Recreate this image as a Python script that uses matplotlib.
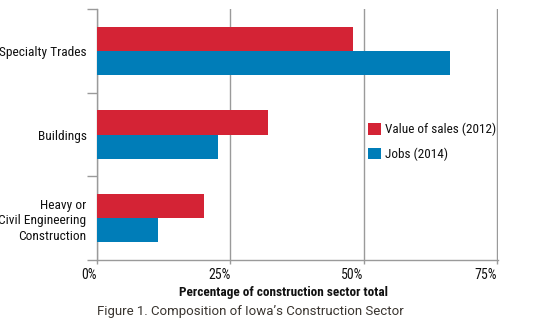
import matplotlib
matplotlib.use("Agg")
import matplotlib.pyplot as plt
from matplotlib.patches import Patch

categories = ["Specialty Trades", "Buildings", "Heavy or\nCivil Engineering\nConstruction"]
sales_2012 = [48.0, 32.1, 20.1]
jobs_2014 = [66.1, 22.6, 11.5]
xticks = [0, 25, 50, 75]
xtick_labels = ["0%", "25%", "50%", "75%"]

RED = "#D42335"
BLUE = "#007DB8"
GRID = "#9a9a9a"
narrow = ["Roboto Condensed", "DejaVu Sans"]

fig = plt.figure(figsize=(5.45, 3.25), dpi=100)
ax = fig.add_axes([0.178, 0.2, 0.7358, 0.771])

h = 0.29
ys = list(range(len(categories)))
ax.barh([y - h / 2 for y in ys], sales_2012, height=h, color=RED, zorder=3)
ax.barh([y + h / 2 for y in ys], jobs_2014, height=h, color=BLUE, zorder=3)

ax.set_ylim(2.5, -0.5)
ax.set_xlim(0, 75.15)
ax.set_yticks(ys)
ax.set_yticklabels(categories, family=narrow, fontsize=9.6, ha="right", linespacing=1.25)
ax.set_yticks([-0.5, 0.5, 1.5, 2.5], minor=True)
ax.tick_params(axis="y", which="major", length=0, pad=7.5, colors="#111111")
ax.tick_params(axis="y", which="minor", length=7, width=1, color=GRID)

ax.set_xticks(xticks)
ax.set_xticklabels(xtick_labels, family=narrow, fontsize=10, ha="right", color="#111111")
ax.tick_params(axis="x", length=3, width=1, color=GRID, pad=3)

ax.grid(axis="x", color=GRID, linewidth=1, zorder=0)
for s in ["top", "right"]:
    ax.spines[s].set_visible(False)
for s in ["left", "bottom"]:
    ax.spines[s].set_color(GRID)
    ax.spines[s].set_linewidth(1)

ax.set_xlabel("Percentage of construction sector total", family=narrow, fontsize=9.5,
              fontweight="bold", color="#111111")
ax.xaxis.set_label_coords(0.464, -0.105)

handles = [Patch(facecolor=RED, edgecolor="none"), Patch(facecolor=BLUE, edgecolor="none")]
leg = ax.legend(handles, ["Value of sales (2012)", "Jobs (2014)"], loc="upper left",
                bbox_to_anchor=(0.676, 0.547), frameon=False, borderpad=0, borderaxespad=0,
                handlelength=1.0, handleheight=1.0, handletextpad=0.3, labelspacing=0.85,
                prop={"family": narrow, "size": 9.5})
for t in leg.get_texts():
    t.set_color("#111111")

fig.text(0.178, 0.02, "Figure 1. Composition of Iowa\u2019s Construction Sector",
         fontsize=9.5, color="#3a3530", ha="left", va="bottom", family=["Roboto", "DejaVu Sans"])

fig.savefig("out.png", dpi=100)
